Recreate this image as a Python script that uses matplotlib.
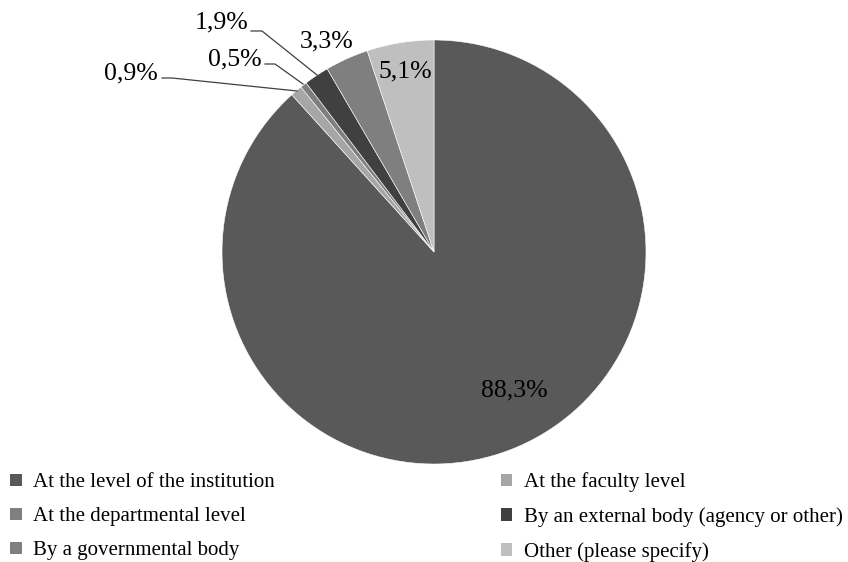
import matplotlib
matplotlib.use("Agg")
import matplotlib.pyplot as plt
from matplotlib.patches import Patch

plt.rcParams["font.family"] = ["Liberation Serif", "DejaVu Serif"]

categories = [
    "At the level of the institution",
    "At the faculty level",
    "At the departmental level",
    "By an external body (agency or other)",
    "By a governmental body",
    "Other (please specify)",
]
shares = [88.3, 0.9, 0.5, 1.9, 3.3, 5.1]
share_labels = ["88,3%", "0,9%", "0,5%", "1,9%", "3,3%", "5,1%"]
colors = ["#595959", "#a6a6a6", "#7f7f7f", "#404040", "#7f7f7f", "#bfbfbf"]

# pixel geometry of the reference
W, H = 848, 562
CX, CY, R = 434, 252, 212


def to_data(px, py):
    return (px - CX) / R, (CY - py) / R


fig = plt.figure(figsize=(W / 100, H / 100), dpi=100)
ax = fig.add_axes([0, 0, 1, 1])

wedges, _ = ax.pie(shares, colors=colors, startangle=90, counterclock=False,
                   radius=1, center=(0, 0),
                   wedgeprops=dict(edgecolor="white", linewidth=0.4))

# pie() resets the limits, so set them afterwards
ax.set_xlim(-CX / R, (W - CX) / R)
ax.set_ylim((CY - H) / R, CY / R)
ax.set_aspect("equal")
ax.axis("off")

# labels inside / outside of wedges (pixel positions)
label_pos = [(514, 390), (131, 73), (235, 59), (222, 22), (327, 41), (405, 71)]
for lab, (px, py) in zip(share_labels, label_pos):
    ax.text(*to_data(px, py), lab, ha="center", va="center", fontsize=18.5,
            color="black")

# leader lines for the small slices
leaders = {
    1: [(162, 78), (172, 78), (297, 91)],
    2: [(265, 64), (275, 64), (303, 84)],
    3: [(251, 31), (262, 31), (317, 75)],
}
for i, pts in leaders.items():
    xs, ys = zip(*[to_data(px, py) for px, py in pts])
    ax.plot(xs, ys, color="#404040", linewidth=0.9)

order = [0, 2, 4, 1, 3, 5]
handles = [Patch(facecolor=colors[i], edgecolor="none", label=categories[i]) for i in order]
fig.legend(handles=handles, loc="upper left", bbox_to_anchor=(4 / W, 1 - 466 / H),
           ncol=2, frameon=False, fontsize=15, handlelength=0.55, handleheight=0.55,
           handletextpad=0.55, columnspacing=10.85, labelspacing=0.72,
           borderaxespad=0, borderpad=0.3)

fig.savefig("out.png", dpi=100)
